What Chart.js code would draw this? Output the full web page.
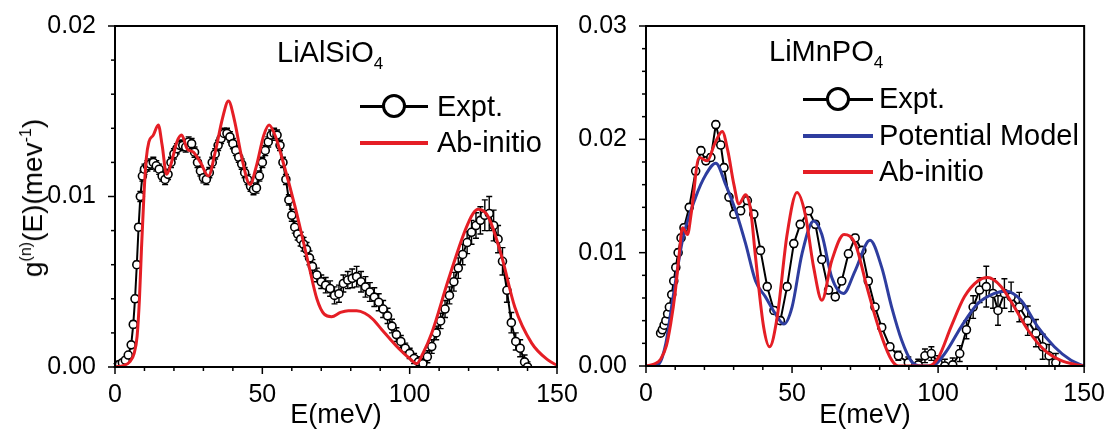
<!DOCTYPE html>
<html>
<head>
<meta charset="utf-8">
<script src="https://cdn.jsdelivr.net/npm/chart.js@4.4.0/dist/chart.umd.min.js"></script>
<style>
  body { margin: 0; background: #fff; }
  #wrap { position: relative; width: 1110px; height: 436px; overflow: hidden;
          font-family: "Liberation Sans", Arial, sans-serif; color: #000; }
  canvas.plot { position: absolute; left: 0; top: 0; }
  .lbl { position: absolute; white-space: nowrap; font-size: 29px; line-height: 29px; }
  .lbl sub { font-size: 17px; line-height: 0; vertical-align: -7px; }
  .lbl sup { font-size: 16px; line-height: 0; vertical-align: 11px; }
  .ytitle { font-size: 28px; line-height: 28px; transform: translate(-50%, -50%) rotate(-90deg); }
  .leg-line { position: absolute; height: 3px; }
  .leg-dot { position: absolute; width: 18px; height: 18px; border: 3px solid #000;
             border-radius: 50%; background: #fff; }
</style>
</head>
<body>
<div id="wrap">
  <canvas id="chartLeft" class="plot" width="1110" height="436"></canvas>
  <canvas id="chartRight" class="plot" width="1110" height="436"></canvas>

  <div class="lbl ytitle" style="left:33px; top:198px;">g<sup>(n)</sup>(E)(mev<sup>-1</sup>)</div>

  <!-- titres des panneaux -->
  <div class="lbl" style="left:277px; top:38px;">LiAlSiO<sub>4</sub></div>
  <div class="lbl" style="left:769px; top:37px;">LiMnPO<sub>4</sub></div>

  <!-- legende gauche -->
  <div class="leg-line" style="left:360px; width:68px; top:105px; background:#000;"></div>
  <div class="leg-dot" style="left:382px; top:94px;"></div>
  <div class="lbl" style="left:437px; top:92px;">Expt.</div>
  <div class="leg-line" style="left:360px; width:68px; top:141px; height:4px; background:#e51e25;"></div>
  <div class="lbl" style="left:437px; top:128px;">Ab-initio</div>

  <!-- legende droite -->
  <div class="leg-line" style="left:803px; width:70px; top:98px; background:#000;"></div>
  <div class="leg-dot" style="left:826px; top:87px;"></div>
  <div class="lbl" style="left:879px; top:84px;">Expt.</div>
  <div class="leg-line" style="left:803px; width:70px; top:134px; height:4px; background:#2e3d9f;"></div>
  <div class="lbl" style="left:879px; top:121px;">Potential Model</div>
  <div class="leg-line" style="left:803px; width:70px; top:170px; height:4px; background:#e51e25;"></div>
  <div class="lbl" style="left:879px; top:157px;">Ab-initio</div>
</div>

<script>
// ---- LiAlSiO4 : valeurs g(E) en unites de 1e-3 meV^-1 ----
const leftExptE = [
  0.5, 1.5, 2.5, 3.5, 4.5, 5.5, 6.2, 6.8, 7.4, 8.0,
  8.6, 9.3, 10, 11, 12, 13, 14, 15, 16, 17,
  18, 19, 20, 21, 22, 23, 24, 25, 26, 27,
  28, 29, 30, 31, 32, 33, 34, 35, 36, 37,
  38, 39, 40, 41, 42, 43, 44, 45, 46, 47,
  48, 49, 50, 51, 52, 53, 54, 55, 56, 57,
  58, 59, 60, 61, 62, 63, 64, 65, 66, 67,
  68.5, 70, 71.5, 73, 74.5, 76, 77.5, 79, 80.5, 82,
  83.5, 85, 86.5, 88, 89.5, 91, 92.5, 94, 95.5, 97,
  98.5, 100, 101.5, 103, 104.5, 106, 107.5, 109, 110.5, 112,
  113.5, 115, 116.5, 118, 119.5, 121, 122.5, 124, 125.5, 127,
  128.5, 130, 131.5, 133, 134.5, 136, 137.5, 139, 140
];
const leftExptG = [
  0.1, 0.15, 0.25, 0.4, 0.7, 1.3, 2.5, 4.0, 6.0, 8.2,
  10.0, 11.2, 11.6, 11.8, 11.9, 12.0, 11.8, 11.6, 11.2, 11.0,
  11.3, 12.0, 12.5, 12.8, 13.0, 13.0, 12.9, 13.2, 13.1, 12.6,
  12.0, 11.5, 11.1, 11.0, 11.4, 12.0, 12.5, 13.0, 13.4, 13.7,
  13.7, 13.5, 13.1, 12.7, 12.3, 11.9, 11.4, 11.0, 10.6, 10.4,
  10.5, 11.2, 12.0, 12.7, 13.2, 13.6, 13.7, 13.6, 13.0, 12.0,
  11.0, 9.8, 8.9, 8.2, 7.8, 7.5, 7.2, 6.9, 6.4, 5.9,
  5.4, 5.0, 4.8, 4.6, 4.2, 4.3, 4.9, 5.1, 5.2, 5.3,
  5.0, 4.7, 4.4, 4.1, 3.8, 3.4, 3.0, 2.4, 1.9, 1.5,
  1.1, 0.8, 0.5, 0.3, 0.2, 0.6, 1.2, 2.0, 2.7, 3.4,
  4.2, 5.0, 5.8, 6.6, 7.3, 7.9, 8.3, 8.6, 8.9, 9.0,
  8.3, 7.5, 6.2, 4.5, 2.6, 1.5, 1.1, 0.3, 0.0
];
const leftExptErr = [
  0.1, 0.1, 0.1, 0.1, 0.1, 0.15, 0.2, 0.2, 0.2, 0.2,
  0.3, 0.3, 0.3, 0.3, 0.3, 0.3, 0.3, 0.3, 0.3, 0.3,
  0.3, 0.3, 0.3, 0.3, 0.3, 0.3, 0.3, 0.3, 0.3, 0.3,
  0.3, 0.3, 0.3, 0.3, 0.3, 0.3, 0.3, 0.3, 0.3, 0.3,
  0.3, 0.3, 0.3, 0.3, 0.3, 0.3, 0.3, 0.3, 0.3, 0.3,
  0.3, 0.3, 0.3, 0.3, 0.3, 0.3, 0.3, 0.3, 0.3, 0.3,
  0.3, 0.3, 0.35, 0.35, 0.35, 0.4, 0.4, 0.4, 0.4, 0.4,
  0.4, 0.4, 0.45, 0.45, 0.5, 0.5, 0.5, 0.5, 0.55, 0.6,
  0.6, 0.6, 0.55, 0.55, 0.5, 0.5, 0.45, 0.4, 0.4, 0.35,
  0.3, 0.3, 0.3, 0.3, 0.3, 0.35, 0.4, 0.4, 0.45, 0.5,
  0.5, 0.55, 0.6, 0.6, 0.65, 0.7, 0.75, 0.8, 0.9, 1.0,
  0.9, 0.8, 0.8, 0.7, 0.6, 0.5, 0.5, 0.4, 0.3
];
const leftAbE = [
  0, 3, 5, 6.5, 7.5, 8.3, 9.0, 9.8, 10.6, 11.5,
  13, 14.7, 16, 17.5, 19, 21, 22.6, 24.5, 26.6, 29,
  31.7, 34, 36.5, 38.5, 40.5, 43, 45.8, 48, 50.5, 52.3,
  54.5, 56.6, 61.1, 65.6, 68.5, 71, 73.5, 76.5, 79.2, 82,
  84.8, 87.5, 90.5, 96.2, 100, 102.4, 104.5, 107.5, 113.1, 118.8,
  121.5, 123.3, 126.7, 131.2, 135.7, 141.4, 147, 150
];
const leftAbG = [
  0, 0.1, 0.3, 0.8, 1.8, 4.0, 7.0, 10.0, 12.2, 13.2,
  13.6, 14.2, 13.0, 11.3, 11.9, 13.2, 13.6, 12.8, 12.6, 12.0,
  11.2, 12.6, 14.6, 15.6, 14.5, 12.3, 10.7, 11.8, 13.6, 14.2,
  13.5, 12.3, 9.4, 6.1, 4.0, 3.1, 2.95, 3.2, 3.3, 3.3,
  3.15, 2.8, 2.2, 1.1, 0.5, 0.2, 0.8, 2.0, 5.1, 8.0,
  9.0, 9.25, 8.8, 6.5, 3.5, 1.4, 0.4, 0.1
];

// ---- LiMnPO4 ----
const rightExptE = [
  5.0, 5.6, 6.2, 6.8, 7.4, 8.0, 8.8, 9.5, 10.2, 11.0,
  12.0, 13.0, 14.8, 17.0, 18.8, 20.5, 22.2, 23.9, 25.6, 26.7,
  28.4, 30.1, 32.4, 34.7, 36.9, 39.2, 41.5, 43.8, 46.0, 48.3,
  50.6, 52.8, 55.7, 58.0, 60.2, 62.5, 64.8, 67.0, 69.3, 71.6,
  73.9, 76.1, 78.4, 80.7, 83.5, 86.4, 89.8, 93.2, 95.5, 97.7,
  100.0, 102.3, 105.0, 107.4, 109.7, 112.0, 114.2, 116.5, 118.8, 120.5,
  122.7, 125.0, 127.8, 130.7, 133.5, 135.8, 138.0, 140.3
];
const rightExptG = [
  2.9, 3.2, 3.6, 4.0, 4.6, 5.2, 6.3, 7.5, 8.7, 10.0,
  11.3, 12.2, 14.0, 17.2, 19.0, 18.1, 18.4, 21.3, 19.5, 17.5,
  14.9, 13.4, 13.7, 14.6, 13.4, 10.2, 7.0, 4.9, 4.0, 7.0,
  10.8, 12.5, 13.7, 12.5, 9.4, 6.7, 6.1, 7.5, 9.9, 11.3,
  10.2, 7.5, 5.2, 3.4, 1.7, 0.9, 0.3, 0.1, 0.9, 1.1,
  0.3, 0.0, 0.1, 1.1, 3.2, 5.2, 6.7, 7.0, 6.4, 4.9,
  6.4, 6.1, 5.2, 4.0, 2.9, 1.7, 0.9, 0.3
];
const rightExptErr = [
  0.2, 0.2, 0.2, 0.2, 0.2, 0.2, 0.2, 0.2, 0.3, 0.3,
  0.3, 0.3, 0.3, 0.3, 0.3, 0.3, 0.3, 0.3, 0.3, 0.3,
  0.3, 0.3, 0.3, 0.3, 0.3, 0.3, 0.3, 0.3, 0.3, 0.3,
  0.3, 0.3, 0.3, 0.3, 0.3, 0.3, 0.3, 0.3, 0.3, 0.3,
  0.3, 0.3, 0.3, 0.3, 0.3, 0.4, 0.5, 0.5, 0.6, 0.6,
  0.6, 0.6, 0.6, 0.7, 0.8, 1.0, 1.1, 1.8, 1.3, 1.3,
  1.3, 1.3, 1.3, 1.3, 1.2, 1.1, 1.0, 0.8
];
const rightPotE = [
  0, 3, 4.5, 6.8, 9.1, 12.5, 17, 20.5, 23.9, 27.3,
  30.7, 34.1, 37.5, 40.9, 44.3, 47.2, 50, 53.4, 57.4, 60.2,
  63.6, 67.6, 71.6, 76.7, 80.7, 84.1, 87.5, 90.9, 94.3, 97.7,
  102.3, 108, 113.6, 119.3, 123.3, 128.4, 134, 139.8, 145.5, 150
];
const rightPotG = [
  0, 0.05, 0.2, 2.0, 5.8, 11.1, 14.9, 16.9, 17.9, 16.0,
  13.7, 10.8, 7.5, 6.1, 4.6, 3.7, 5.2, 9.9, 12.8, 11.6,
  7.8, 6.4, 8.4, 11.1, 8.7, 5.2, 2.3, 0.4, 0, 0,
  1.1, 3.5, 5.5, 6.4, 6.6, 5.8, 3.5, 1.7, 0.5, 0
];
const rightAbE = [
  0, 3, 5, 7, 8.5, 10, 11.3, 12.5, 14.2, 15.5,
  18.2, 21, 23.5, 26.1, 28, 30.1, 31.8, 34.1, 35.8, 37.5,
  40.3, 42.3, 44.9, 48.3, 51.7, 54.5, 57.4, 60.2, 63.6, 67.8,
  71.6, 75.6, 79.5, 83.5, 86.4, 96.6, 100, 104.5, 109, 113.6,
  117, 121.6, 126.1, 130.7, 136.4, 142, 147.7, 150
];
const rightAbG = [
  0, 0.2, 0.6, 1.8, 3.8, 6.5, 9.7, 12.2, 11.6, 13.5,
  18.4, 18.1, 19.6, 20.7, 19.0, 16.0, 14.3, 15.1, 13.8, 9.6,
  3.4, 1.7, 4.3, 11.6, 15.3, 13.4, 8.7, 5.8, 9.3, 11.6,
  10.8, 7.0, 3.5, 0.8, 0.0, 0.0, 0.7, 3.5, 6.1, 7.5,
  7.8, 7.0, 5.2, 3.2, 1.4, 0.5, 0.1, 0
];

const xMajor = [0, 50, 100, 150];
const leftYMax = 20;   // 0.02
const rightYMax = 30;  // 0.03

const rouge = '#e51e25';
const bleu = '#2e3d9f';
const police = '"Liberation Sans", Arial, sans-serif';

const toPoints = (xs, ys) => xs.map((x, i) => ({ x: x, y: ys[i] }));

// cadre noir + graduations (majeures longues, mineures courtes)
const cadrePlugin = {
  id: 'cadre',
  afterDraw(chart) {
    const { ctx, chartArea: a, scales } = chart;
    ctx.save();
    ctx.strokeStyle = '#000';
    ctx.lineWidth = 2;
    ctx.strokeRect(a.left, a.top, a.right - a.left, a.bottom - a.top);
    ctx.lineWidth = 1.5;
    scales.x.ticks.forEach(t => {
      const px = scales.x.getPixelForValue(t.value);
      const len = xMajor.includes(t.value) ? 7 : 4;
      ctx.beginPath();
      ctx.moveTo(px, a.bottom);
      ctx.lineTo(px, a.bottom + len);
      ctx.stroke();
    });
    scales.y.ticks.forEach(t => {
      const py = scales.y.getPixelForValue(t.value);
      const len = t.value % 10 === 0 ? 7 : 4;
      ctx.beginPath();
      ctx.moveTo(a.left, py);
      ctx.lineTo(a.left - len, py);
      ctx.stroke();
    });
    ctx.restore();
  }
};

// barres d'erreur des points experimentaux
const erreurPlugin = {
  id: 'erreurs',
  beforeDatasetsDraw(chart) {
    const { ctx, scales } = chart;
    chart.data.datasets.forEach((ds, i) => {
      if (!ds.erreurs) return;
      const meta = chart.getDatasetMeta(i);
      ctx.save();
      ctx.strokeStyle = '#000';
      ctx.lineWidth = 1.4;
      meta.data.forEach((pt, j) => {
        const v = ds.data[j].y;
        const e = ds.erreurs[j];
        const y1 = scales.y.getPixelForValue(v + e);
        const y2 = scales.y.getPixelForValue(Math.max(v - e, 0));
        ctx.beginPath();
        ctx.moveTo(pt.x, y1); ctx.lineTo(pt.x, y2);
        ctx.moveTo(pt.x - 3, y1); ctx.lineTo(pt.x + 3, y1);
        ctx.moveTo(pt.x - 3, y2); ctx.lineTo(pt.x + 3, y2);
        ctx.stroke();
      });
      ctx.restore();
    });
  }
};

const exptDataset = (xs, ys, errs) => ({
  label: 'Expt.',
  data: toPoints(xs, ys),
  erreurs: errs,
  borderColor: '#000',
  borderWidth: 2,
  pointRadius: 4,
  pointBorderWidth: 1.6,
  pointBackgroundColor: '#fff',
  pointBorderColor: '#000',
  tension: 0
});

const courbe = (label, xs, ys, color) => ({
  label: label,
  data: toPoints(xs, ys),
  borderColor: color,
  borderWidth: 3,
  pointRadius: 0,
  cubicInterpolationMode: 'monotone',
  tension: 0.4
});

const makeOptions = (yMax, yWidth, xHeight, pad) => ({
  responsive: false,
  animation: false,
  layout: { padding: pad },
  plugins: { legend: { display: false }, tooltip: { enabled: false } },
  scales: {
    x: {
      type: 'linear', min: 0, max: 150,
      grid: { display: false },
      border: { display: false },
      ticks: {
        stepSize: 10, autoSkip: false, maxRotation: 0, padding: 5,
        color: '#000', font: { family: police, size: 25 },
        callback: v => xMajor.includes(v) ? String(v) : ''
      },
      title: {
        display: true, text: 'E(meV)', color: '#000',
        font: { family: police, size: 27, lineHeight: 1.2 },
        padding: { top: 0, bottom: 4 }
      },
      afterFit: s => { s.height = xHeight; }
    },
    y: {
      min: 0, max: yMax,
      grid: { display: false },
      border: { display: false },
      ticks: {
        stepSize: 2, autoSkip: false, padding: 11,
        color: '#000', font: { family: police, size: 25 },
        callback: v => v % 10 === 0 ? (v / 1000).toFixed(2) : ''
      },
      afterFit: s => { s.width = yWidth; }
    }
  }
});

new Chart(document.getElementById('chartLeft'), {
  type: 'line',
  data: {
    datasets: [
      courbe('Ab-initio', leftAbE, leftAbG, rouge),
      exptDataset(leftExptE, leftExptG, leftExptErr)
    ]
  },
  options: makeOptions(leftYMax, 115, 69, { top: 26, right: 553, left: 0, bottom: 0 }),
  plugins: [erreurPlugin, cadrePlugin]
});

new Chart(document.getElementById('chartRight'), {
  type: 'line',
  data: {
    datasets: [
      courbe('Ab-initio', rightAbE, rightAbG, rouge),
      courbe('Potential Model', rightPotE, rightPotG, bleu),
      exptDataset(rightExptE, rightExptG, rightExptErr)
    ]
  },
  options: makeOptions(rightYMax, 646, 70, { top: 24, right: 24, left: 0, bottom: 0 }),
  plugins: [erreurPlugin, cadrePlugin]
});
</script>
</body>
</html>
